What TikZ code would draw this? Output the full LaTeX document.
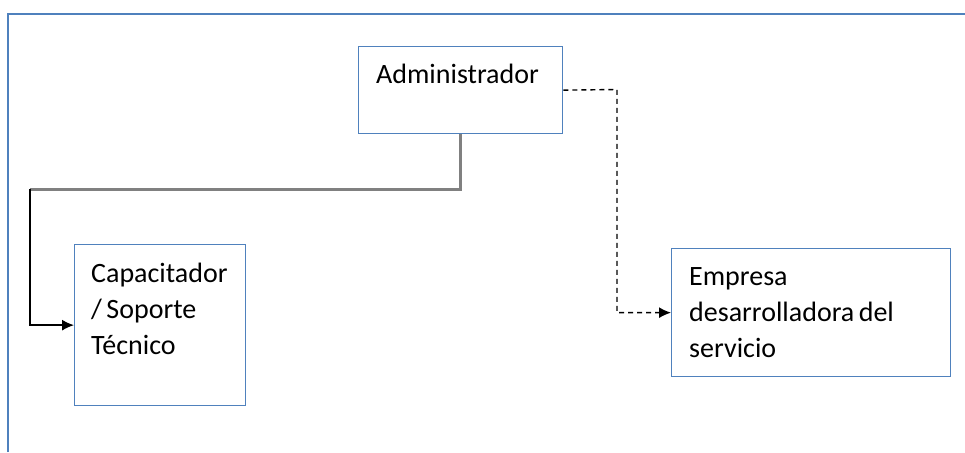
\documentclass[tikz,border=0pt]{standalone}
\usepackage{fontspec}
\setmainfont{Carlito}
\usetikzlibrary{arrows.meta}
\definecolor{boxblue}{RGB}{79,129,189}
\definecolor{linegray}{RGB}{128,128,128}
\newcommand{\boxfont}{\fontsize{28}{36}\selectfont}
\newcommand{\tightspace}{\spaceskip=0.16em\relax\xspaceskip=0.16em\relax}
\begin{document}
\begin{tikzpicture}[x=1pt,y=-1pt,
  box/.style={draw=boxblue, line width=1.3pt, rectangle, inner sep=0pt, anchor=north west},
  lbl/.style={anchor=base west, inner sep=0pt, font=\boxfont, align=left, text=black, execute at begin node=\tightspace},
  mainline/.style={draw=linegray, line width=3pt},
  subline/.style={draw=black, line width=1.4pt, -{Latex[length=12pt,width=11pt]}},
  dashline/.style={draw=black, line width=1.4pt, dash pattern=on 5pt off 4pt, -{Latex[length=12pt,width=11pt]}},
  frameline/.style={draw=boxblue, line width=2pt}]
\useasboundingbox (0,0) rectangle (965,452);
\draw[frameline] (8,452) -- (8,14) -- (965,14);
\node[box, minimum width=204pt, minimum height=87pt,
  label={[lbl, text width=190pt, xshift=18pt, yshift=-37pt]north west:Administrador}] (admin) at (358,46) {};
\node[box, minimum width=171pt, minimum height=161pt,
  label={[lbl, text width=150pt, xshift=17pt, yshift=-38pt]north west:Capacitador\\/ Soporte\\Técnico}] (cap) at (74,244) {};
\node[box, minimum width=279pt, minimum height=128pt,
  label={[lbl, text width=250pt, xshift=18pt, yshift=-37pt]north west:Empresa\\desarrolladora del\\servicio}] (emp) at (671,248) {};
\coordinate (corner) at (30,189);
\coordinate (dturn) at (617,89.5);
\draw[mainline] (admin.south) |- (corner);
\draw[subline] (corner) |- (cap.west);
\draw[dashline] (admin.east) -- (dturn) |- (emp.west);
\end{tikzpicture}
\end{document}
